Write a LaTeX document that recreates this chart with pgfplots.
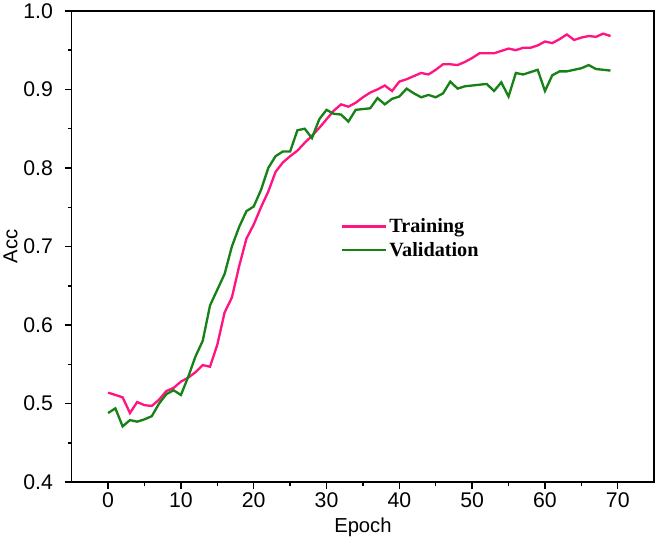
\documentclass[border=0pt]{standalone}
\usepackage{pgfplots}
\pgfplotsset{compat=1.18}
\usepackage{fontspec}
\setmainfont{Liberation Sans}
\newfontfamily\legfont{Liberation Serif}
\definecolor{trainc}{RGB}{255,20,130}
\definecolor{valc}{RGB}{22,130,22}
\begin{document}
\begin{tikzpicture}
\begin{axis}[
  scale only axis, width=576pt, height=466pt,
  xmin=-5, xmax=75, ymin=0.4, ymax=1.0,
  xtick={0,10,20,30,40,50,60,70},
  ytick={0.4,0.5,0.6,0.7,0.8,0.9,1.0},
  minor x tick num=1, minor y tick num=1,
  tick align=outside, tick pos=left,
  major tick length=7pt, minor tick length=4pt,
  axis line style={line width=1.6pt},
  every tick/.style={black, line width=1.4pt},
  /pgf/number format/assume math mode=true,
  yticklabel style={/pgf/number format/fixed, /pgf/number format/precision=1, /pgf/number format/fixed zerofill, xshift=-8pt},
  ticklabel style={font=\fontsize{21}{21}\selectfont},
  xticklabel style={yshift=0pt},
  xlabel={Epoch}, ylabel={Acc},
  label style={font=\fontsize{20}{20}\selectfont},
  xlabel style={yshift=-3pt},
  ylabel style={yshift=-1pt},
  legend style={at={(rel axis cs:0.456,0.568)}, anchor=north west, draw=none, fill=none,
    font=\legfont\bfseries\fontsize{20}{24}\selectfont, row sep=4pt},
  legend cell align=left,
  legend image code/.code={\draw[#1] (0pt,0pt) -- (44pt,0pt);},
]
\addplot[trainc, line width=2.3pt] coordinates {
(0,0.514) (1,0.511) (2,0.508) (3,0.488) (4,0.502) (5,0.498) (6,0.497) (7,0.505) (8,0.516) (9,0.520)
(10,0.528) (11,0.533) (12,0.540) (13,0.549) (14,0.547) (15,0.575) (16,0.616) (17,0.635) (18,0.675) (19,0.710)
(20,0.728) (21,0.750) (22,0.770) (23,0.795) (24,0.807) (25,0.815) (26,0.822) (27,0.832) (28,0.841) (29,0.851)
(30,0.862) (31,0.873) (32,0.881) (33,0.878) (34,0.883) (35,0.890) (36,0.896) (37,0.900) (38,0.905) (39,0.898)
(40,0.910) (41,0.913) (42,0.917) (43,0.921) (44,0.919) (45,0.925) (46,0.932) (47,0.932) (48,0.931) (49,0.935)
(50,0.940) (51,0.946) (52,0.946) (53,0.946) (54,0.949) (55,0.952) (56,0.950) (57,0.953) (58,0.953) (59,0.956)
(60,0.961) (61,0.959) (62,0.964) (63,0.970) (64,0.963) (65,0.966) (66,0.968) (67,0.967) (68,0.971) (69,0.968)
};
\addlegendentry{Training}
\addplot[valc, line width=2.3pt] coordinates {
(0,0.488) (1,0.494) (2,0.471) (3,0.479) (4,0.477) (5,0.480) (6,0.484) (7,0.500) (8,0.512) (9,0.517)
(10,0.511) (11,0.534) (12,0.560) (13,0.580) (14,0.625) (15,0.645) (16,0.665) (17,0.700) (18,0.725) (19,0.745)
(20,0.751) (21,0.772) (22,0.800) (23,0.815) (24,0.821) (25,0.821) (26,0.848) (27,0.850) (28,0.838) (29,0.862)
(30,0.874) (31,0.869) (32,0.868) (33,0.859) (34,0.874) (35,0.875) (36,0.876) (37,0.889) (38,0.881) (39,0.888)
(40,0.891) (41,0.901) (42,0.895) (43,0.890) (44,0.893) (45,0.890) (46,0.895) (47,0.910) (48,0.901) (49,0.904)
(50,0.905) (51,0.906) (52,0.907) (53,0.898) (54,0.909) (55,0.891) (56,0.921) (57,0.919) (58,0.922) (59,0.925)
(60,0.898) (61,0.918) (62,0.923) (63,0.923) (64,0.925) (65,0.927) (66,0.931) (67,0.926) (68,0.925) (69,0.924)
};
\addlegendentry{Validation}
\end{axis}
\end{tikzpicture}
\end{document}
